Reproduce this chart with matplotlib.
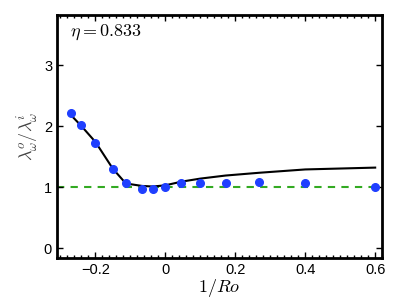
import numpy as np
import matplotlib
matplotlib.use("Agg")
import matplotlib.pyplot as plt
from matplotlib.ticker import MultipleLocator

plt.rcParams['font.family'] = ['Liberation Sans', 'DejaVu Sans']
plt.rcParams['mathtext.fontset'] = 'cm'

# measured points (1/Ro, ratio)
inv_ro = [-0.27, -0.24, -0.2, -0.15, -0.113, -0.067, -0.036, 0.0,
          0.046, 0.1, 0.172, 0.267, 0.4, 0.6]
ratio_pts = [2.22, 2.01, 1.73, 1.29, 1.06, 0.965, 0.965, 1.0,
             1.06, 1.06, 1.06, 1.09, 1.06, 1.0]
# model curve
ratio_line = [2.18, 2.0, 1.74, 1.30, 1.06, 1.02, 1.01, 1.03,
              1.09, 1.14, 1.19, 1.235, 1.29, 1.32]

fig = plt.figure(figsize=(4.07, 3.06), dpi=100)
ax = fig.add_axes([0.140, 0.157, 0.799, 0.794])

ax.axhline(1.0, color='#33aa22', lw=1.5, ls=(0, (3.5, 3.0)), zorder=1)
ax.plot(inv_ro, ratio_line, color='black', lw=1.5, zorder=2)
ax.plot(inv_ro, ratio_pts, 'o', color='#1f3fff', ms=5.5, mec='#1f3fff', zorder=3)

ax.set_xlim(-0.31, 0.62)
ax.set_ylim(-0.16, 3.82)
ax.set_xticks([-0.2, 0, 0.2, 0.4, 0.6])
ax.set_xticklabels(['\u22120.2', '0', '0.2', '0.4', '0.6'])
ax.set_yticks([0, 1, 2, 3])
ax.xaxis.set_minor_locator(MultipleLocator(0.02))

ax.tick_params(which='both', direction='in', top=True, right=True, labelsize=10.5, width=1)
ax.tick_params(which='major', length=4)
ax.tick_params(which='minor', length=2)
for s in ax.spines.values():
    s.set_linewidth(2)

ax.set_xlabel(r'$1/Ro$', fontsize=13, labelpad=0)
ax.set_ylabel(r'$\lambda_\omega^o/\lambda_\omega^i$', fontsize=13, labelpad=2, color='#444444')
ax.text(0.04, 0.93, r'$\eta = 0.833$', transform=ax.transAxes, fontsize=13, va='center')

fig.savefig('out.png', dpi=100)
